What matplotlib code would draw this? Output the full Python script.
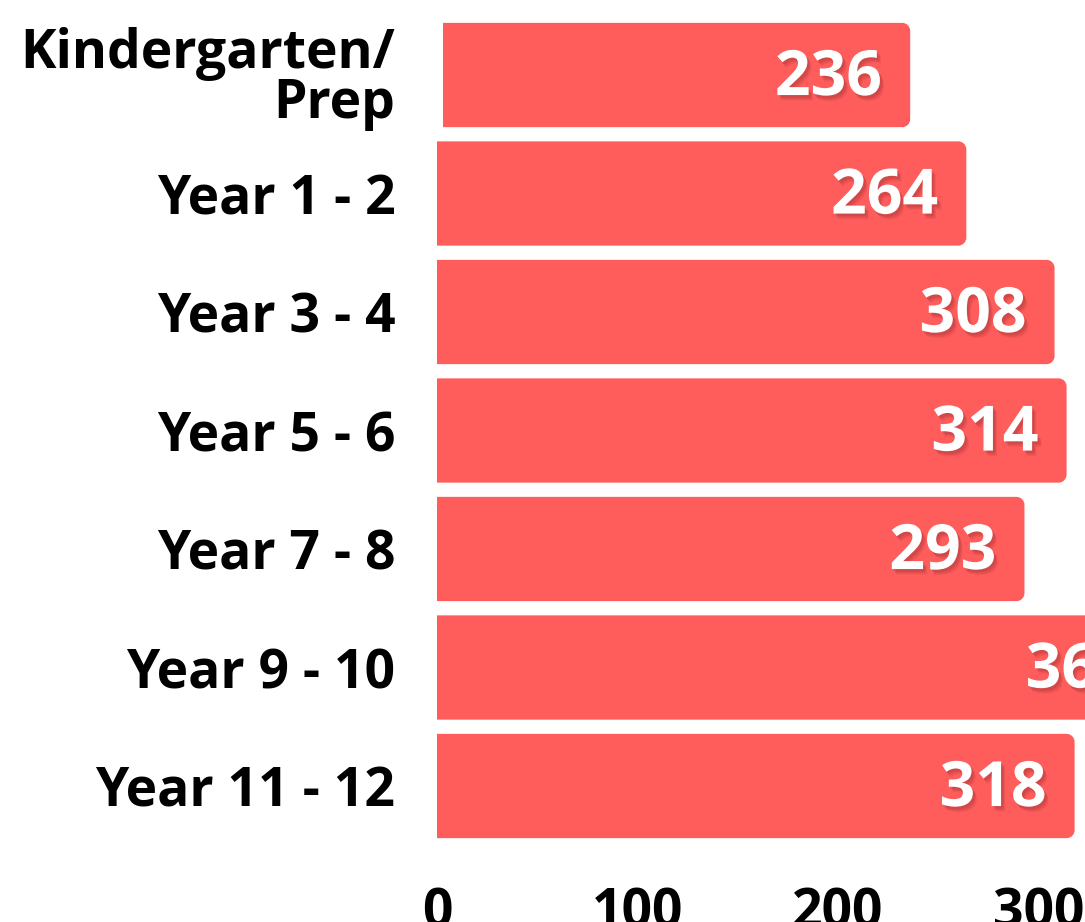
import matplotlib
matplotlib.use("Agg")
import matplotlib.pyplot as plt
import matplotlib.patheffects as pe
from matplotlib.patches import PathPatch
from matplotlib.path import Path

# --- dados ---
categories = ["Kindergarten/\nPrep", "Year 1 - 2", "Year 3 - 4", "Year 5 - 6",
              "Year 7 - 8", "Year 9 - 10", "Year 11 - 12"]
values = [236, 264, 308, 314, 293, 361, 318]
bar_starts = [3, 0, 0, 0, 0, 0, 0]
ticks = [0, 100, 200, 300]

BAR_COLOR = "#FF5C5C"
FONT = "Open Sans"

fig = plt.figure(figsize=(10.85, 9.22), dpi=100)
W, H = 1085, 922
# eixo em pixels: esquerda 437, topo 10, base 850
ax = fig.add_axes([437 / W, (H - 850) / H, (W - 437) / W, 840 / H])

ypos = list(range(len(categories)))
bar_h = 0.88
ax.set_xlim(0, (W - 437) / 2.005)
ax.set_ylim(6.54, -0.5485)

px_x = 1 / 2.005          # unidades x por pixel
px_y = 1 / 118.4          # unidades y por pixel
rx, ry = 8 * px_x, 8 * px_y


def barra_arredondada(x0, x1, y0, y1):
    # retangulo com cantos direitos arredondados (bezier cubica)
    k = 0.5523
    verts = [(x0, y0), (x1 - rx, y0),
             (x1 - rx + k * rx, y0), (x1, y0 + ry - k * ry), (x1, y0 + ry),
             (x1, y1 - ry),
             (x1, y1 - ry + k * ry), (x1 - rx + k * rx, y1), (x1 - rx, y1),
             (x0, y1), (x0, y0)]
    codes = [Path.MOVETO, Path.LINETO,
             Path.CURVE4, Path.CURVE4, Path.CURVE4,
             Path.LINETO,
             Path.CURVE4, Path.CURVE4, Path.CURVE4,
             Path.LINETO, Path.CLOSEPOLY]
    return Path(verts, codes)


sombra = [pe.SimplePatchShadow(offset=(o, -o * 1.3), shadow_rgbFace="#7a1f1f", alpha=a)
          for o, a in [(3.0, 0.10), (2.2, 0.12), (1.4, 0.15)]]

for y, v, s in zip(ypos, values, bar_starts):
    ax.add_patch(PathPatch(barra_arredondada(s, v, y - bar_h / 2, y + bar_h / 2),
                           fc=BAR_COLOR, ec="none"))
    ax.text(v - 28 * px_x, y + 0.03, str(v), ha="right", va="center",
            fontsize=45, fontweight="bold", family=FONT, color="white",
            clip_on=True, path_effects=sombra + [pe.Normal()])

ax.set_yticks(ypos)
ax.set_yticklabels(categories, fontsize=38.5, fontweight="bold", family=FONT,
                   linespacing=0.88)
ax.set_xticks(ticks)
ax.set_xticklabels([str(t) for t in ticks], fontsize=38.5, fontweight="bold", family=FONT)
ax.tick_params(axis="y", length=0, pad=30)
ax.tick_params(axis="x", length=0, pad=26)
for sp in ax.spines.values():
    sp.set_visible(False)

fig.savefig("out.png", dpi=100)
